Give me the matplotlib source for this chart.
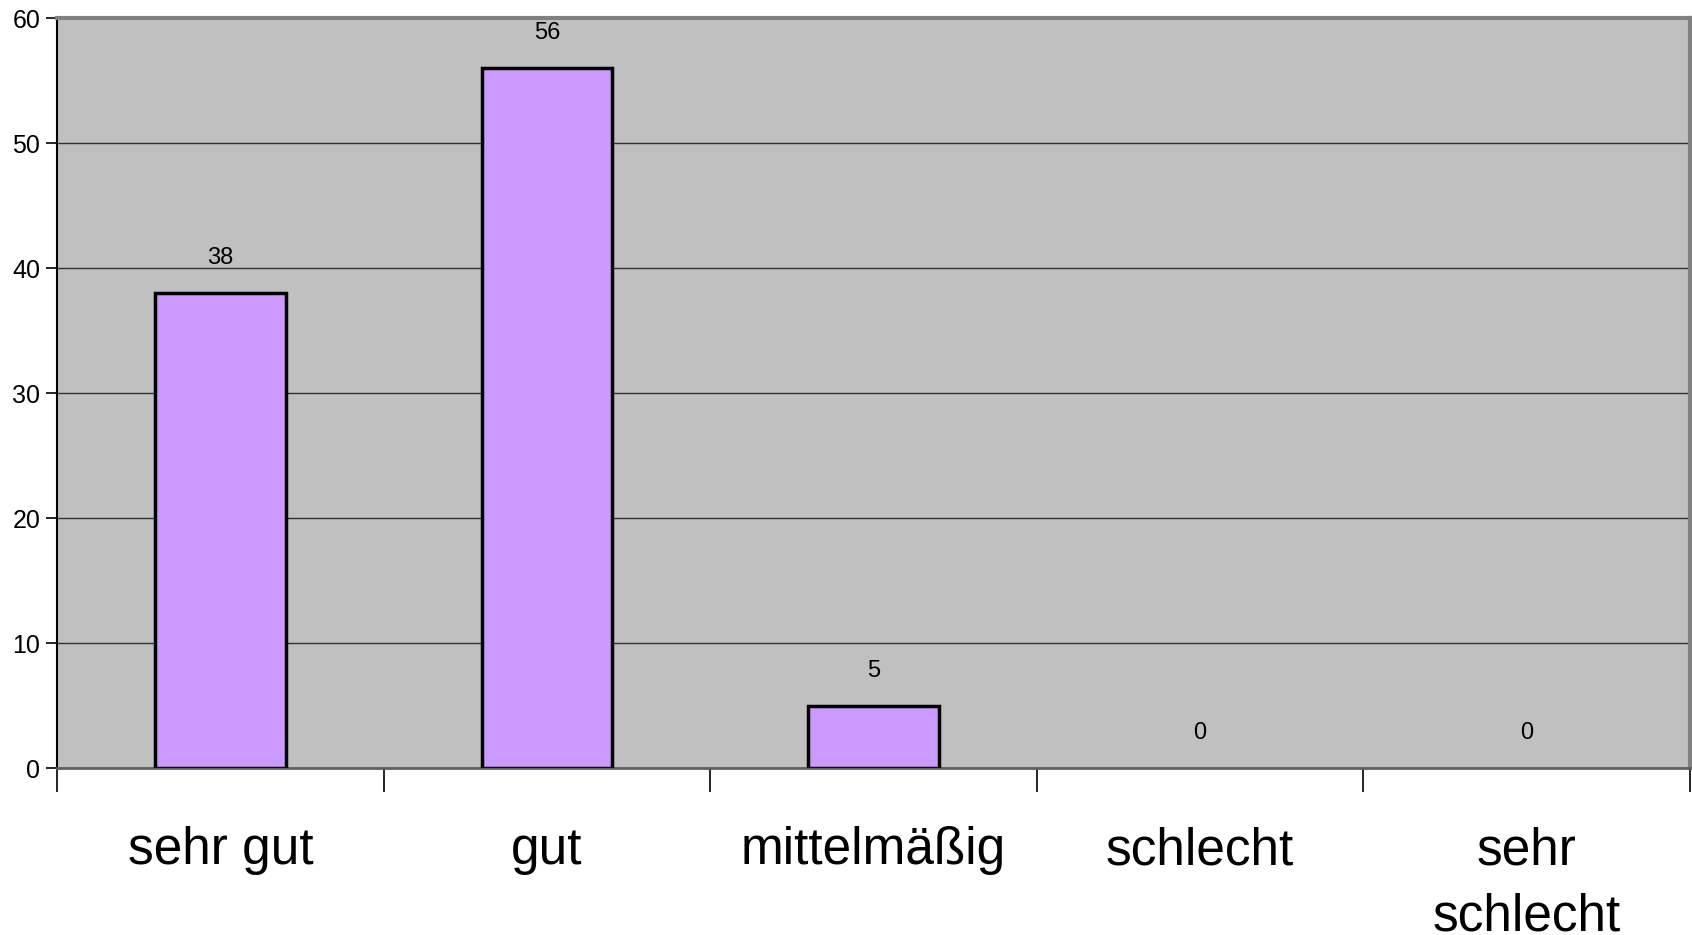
import matplotlib.pyplot as plt

# Data
categories = ['sehr gut', 'gut', 'mittelmäßig', 'schlecht', 'sehr\nschlecht']
values = [38, 56, 5, 0, 0]

plt.rcParams['font.family'] = ['Liberation Sans', 'DejaVu Sans']

fig = plt.figure(figsize=(16.92, 9.35), dpi=100)
ax = fig.add_axes([0.0337, 0.1786, 0.9651, 0.8021])
ax.set_facecolor('#C0C0C0')

x = list(range(len(categories)))
edge_w = [2.5 if v > 0 else 0 for v in values]
bars = ax.bar(x, values, width=0.4, color='#CC99FF', edgecolor='black',
              linewidth=edge_w, zorder=3)

# value labels above the bars
for xi, v in zip(x, values):
    ax.text(xi, v + 1.9, str(v), ha='center', va='bottom', fontsize=17, zorder=4)

ax.set_xlim(-0.5, len(categories) - 0.5)
ax.set_ylim(0, 60)
ax.set_yticks(range(0, 61, 10))
ax.yaxis.grid(True, color='#303030', linewidth=1.0, zorder=1)
ax.set_axisbelow(True)

# category boundaries as major ticks, names as minor ticks
ax.set_xticks([i - 0.5 for i in range(len(categories) + 1)])
ax.set_xticklabels([])
ax.set_xticks(x, minor=True)
ax.set_xticklabels(categories, minor=True, fontsize=37, linespacing=1.45)
ax.tick_params(axis='x', which='major', length=17, width=1.2, color='black')
ax.tick_params(axis='x', which='minor', length=0, pad=42)
ax.tick_params(axis='y', length=8, width=1.2, labelsize=18, pad=4)

for side in ['top', 'right']:
    ax.spines[side].set_color('#808080')
    ax.spines[side].set_linewidth(3)
ax.spines['left'].set_color('black')
ax.spines['left'].set_linewidth(1.5)
ax.spines['bottom'].set_color('#606060')
ax.spines['bottom'].set_linewidth(2)

fig.savefig('out.png', dpi=100)
